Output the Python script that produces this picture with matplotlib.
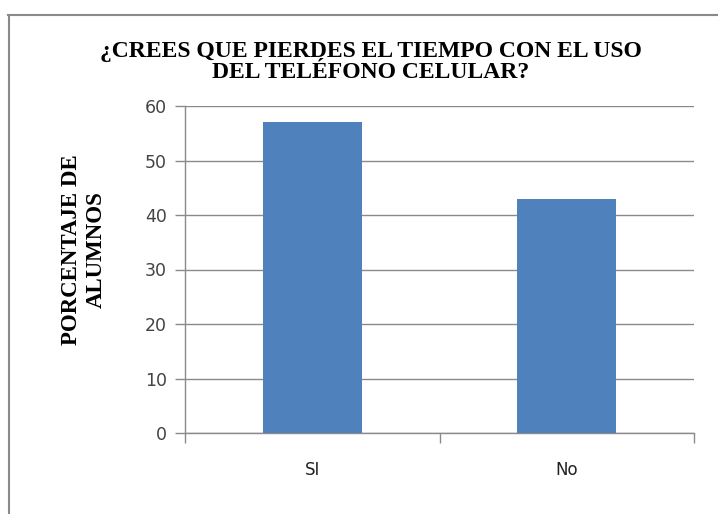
import matplotlib.pyplot as plt
from matplotlib.lines import Line2D

# datos
categorias = ['SI', 'No']
porcentajes = [57, 43]
yticks = [0, 10, 20, 30, 40, 50, 60]

titulo = '¿CREES QUE PIERDES EL TIEMPO CON EL USO\nDEL TELÉFONO CELULAR?'
etiqueta_y = 'PORCENTAJE DE\nALUMNOS'

W, H = 718, 514
fig = plt.figure(figsize=(W / 100, H / 100), dpi=100)

gris = '#8a8a8a'
ax = fig.add_axes([185 / W, (H - 433) / H, 509 / W, 327 / H])

x = range(len(categorias))
ax.bar(x, porcentajes, width=0.39, color='#4F81BD', zorder=3)

ax.set_xlim(-0.5, 1.5)
ax.set_ylim(0, 60)
ax.set_yticks(yticks)
ax.yaxis.grid(True, color=gris, linewidth=1)
ax.set_axisbelow(True)

ax.set_xticks(list(x))
ax.set_xticklabels(categorias)
ax.set_xticks([-0.5, 0.5, 1.5], minor=True)
ax.tick_params(axis='x', which='major', length=0, pad=20, labelsize=12, labelcolor='#222222')
ax.tick_params(axis='x', which='minor', length=7, color=gris, width=1)
ax.tick_params(axis='y', length=7, color=gris, width=1, pad=6, labelsize=12.5, labelcolor='#444444')

for s in ['top', 'right']:
    ax.spines[s].set_visible(False)
for s in ['left', 'bottom']:
    ax.spines[s].set_color(gris)
    ax.spines[s].set_linewidth(1)

fig.text(371 / W, 1 - 62 / H, titulo, ha='center', va='center',
         family='Liberation Serif', weight='bold', fontsize=17, linespacing=1.02)
fig.text(84 / W, 1 - 250 / H, etiqueta_y, ha='center', va='center', rotation=90,
         family='Liberation Serif', weight='bold', fontsize=16.5, linespacing=1.25)

# borde del area del grafico
fig.add_artist(Line2D([8.5 / W, 8.5 / W], [0, 1 - 15 / H], transform=fig.transFigure,
                      color=gris, linewidth=1.5))
fig.add_artist(Line2D([8 / W, 1], [1 - 15 / H, 1 - 15 / H], transform=fig.transFigure,
                      color=gris, linewidth=1.5))

fig.savefig('out.png', dpi=100)
